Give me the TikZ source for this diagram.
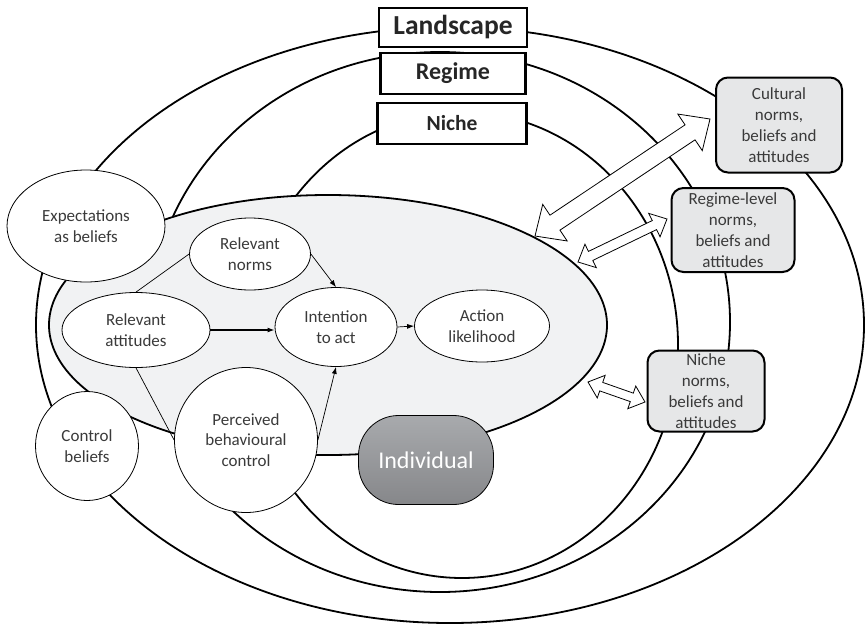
\documentclass[tikz,border=0pt]{standalone}
\usepackage{fontspec}
\setmainfont{Carlito}
\usetikzlibrary{calc}
\usetikzlibrary{arrows.meta}
\usetikzlibrary{shapes.geometric}
\definecolor{txt}{HTML}{3A3A3A}
\definecolor{shade}{HTML}{F1F2F3}
\definecolor{boxgray}{HTML}{E6E7E8}
\definecolor{indtop}{HTML}{A8AAAD}
\definecolor{indbot}{HTML}{86878A}
\newcommand{\fatarrow}[5]{
	\coordinate (fa1) at ($(#1)!#5!(#2)$);
	\coordinate (fa2) at ($(#2)!#5!(#1)$);
	\draw[arrowbody] (#1) -- ($(fa1)!#4!-90:(#2)$) -- ($(fa1)!#3!-90:(#2)$)
		-- ($(fa2)!#3!90:(#1)$) -- ($(fa2)!#4!90:(#1)$) -- (#2)
		-- ($(fa2)!#4!-90:(#1)$) -- ($(fa2)!#3!-90:(#1)$)
		-- ($(fa1)!#3!90:(#2)$) -- ($(fa1)!#4!90:(#2)$) -- cycle;
}
\begin{document}
\begin{tikzpicture}[x=1pt,y=-1pt,
	ring/.style={line width=1.8pt},
	level/.style={draw, line width=2.2pt, fill=white, inner sep=0pt, text=black!85},
	normbox/.style={draw, line width=2pt, rounded corners=12pt, fill=boxgray, inner sep=0pt,
		align=center, text=txt, font=\fontsize{17}{21}\selectfont},
	idea/.style={ellipse, draw, line width=0.8pt, fill=white, inner sep=0pt, align=center,
		text=txt, font=\fontsize{17}{20.5}\selectfont},
	link/.style={line width=0.7pt},
	flow/.style={link, -{Latex[length=7pt,width=5pt]}},
	arrowbody/.style={fill=white, line width=0.8pt, line join=miter}]

	\useasboundingbox (0,0) rectangle (866,624);

	\draw[ring] (450,325) ellipse [x radius=414, y radius=298];
	\draw[ring] (440,322) ellipse [x radius=290, y radius=270];
	\draw[ring] (462,345) ellipse [x radius=216, y radius=233];
	\draw[ring, fill=shade] (328,325) ellipse [x radius=279, y radius=130];

	\node[level, minimum width=148, minimum height=39, font=\bfseries\fontsize{27.5}{27.5}\selectfont] (land) at (453,27.5) {Landscape};
	\node[level, minimum width=145, minimum height=41, font=\bfseries\fontsize{24}{24}\selectfont] (reg) at (453,73.5) {Regime};
	\node[level, minimum width=149, minimum height=41, font=\bfseries\fontsize{21.5}{21.5}\selectfont] (nic) at (452,123.5) {Niche};

	\node[normbox, minimum width=126, minimum height=95] (cult) at (779,125) {Cultural\\norms,\\beliefs and\\attitudes};
	\node[normbox, minimum width=123, minimum height=84] (regnorm) at (733,230) {Regime-level\\norms,\\beliefs and\\attitudes};
	\node[normbox, minimum width=117, minimum height=81] (nicnorm) at (706,391) {Niche\\norms,\\beliefs and\\attitudes};

	\coordinate (ca1) at (535,236);
	\coordinate (ca2) at (710,119);
	\coordinate (ra1) at (578,262);
	\coordinate (ra2) at (667,219);
	\coordinate (na1) at (588,382);
	\coordinate (na2) at (645,402);
	\fatarrow{ca1}{ca2}{9pt}{22pt}{24pt}
	\fatarrow{ra1}{ra2}{5pt}{13pt}{14pt}
	\fatarrow{na1}{na2}{4.5pt}{12pt}{14pt}

	\node[idea, minimum width=158, minimum height=112] (expect) at (86,226) {Expectations\\as beliefs};
	\node[idea, minimum width=121, minimum height=72] (norms) at (250,254) {Relevant\\norms};
	\node[idea, minimum width=148, minimum height=75] (att) at (136,330) {Relevant\\attitudes};
	\node[idea, minimum width=122, minimum height=79] (int) at (336,327) {Intention\\to act};
	\node[idea, minimum width=135, minimum height=72] (act) at (482,326) {Action\\likelihood};
	\node[idea, minimum width=143, minimum height=145] (pbc) at (246,440) {Perceived\\behavioural\\control};
	\node[idea, minimum width=103, minimum height=109] (ctrl) at (87,446) {Control\\beliefs};
	\node[draw, line width=0.8pt, rounded corners=40pt, minimum width=135, minimum height=89,
		top color=indtop, bottom color=indbot, text=white, font=\fontsize{24}{24}\selectfont] (ind) at (426,460) {Individual};

	\draw[link] (att.north) -- (norms.west);
	\draw[link] (att.south) -- (pbc.west);
	\draw[flow] (norms.east) -- (int.north);
	\draw[flow, line width=1.4pt] (att.east) -- (att.east -| int.west);
	\draw[flow] (int.east) -- (act.west);
	\draw[flow] (pbc.east) -- (int.south);
\end{tikzpicture}
\end{document}
